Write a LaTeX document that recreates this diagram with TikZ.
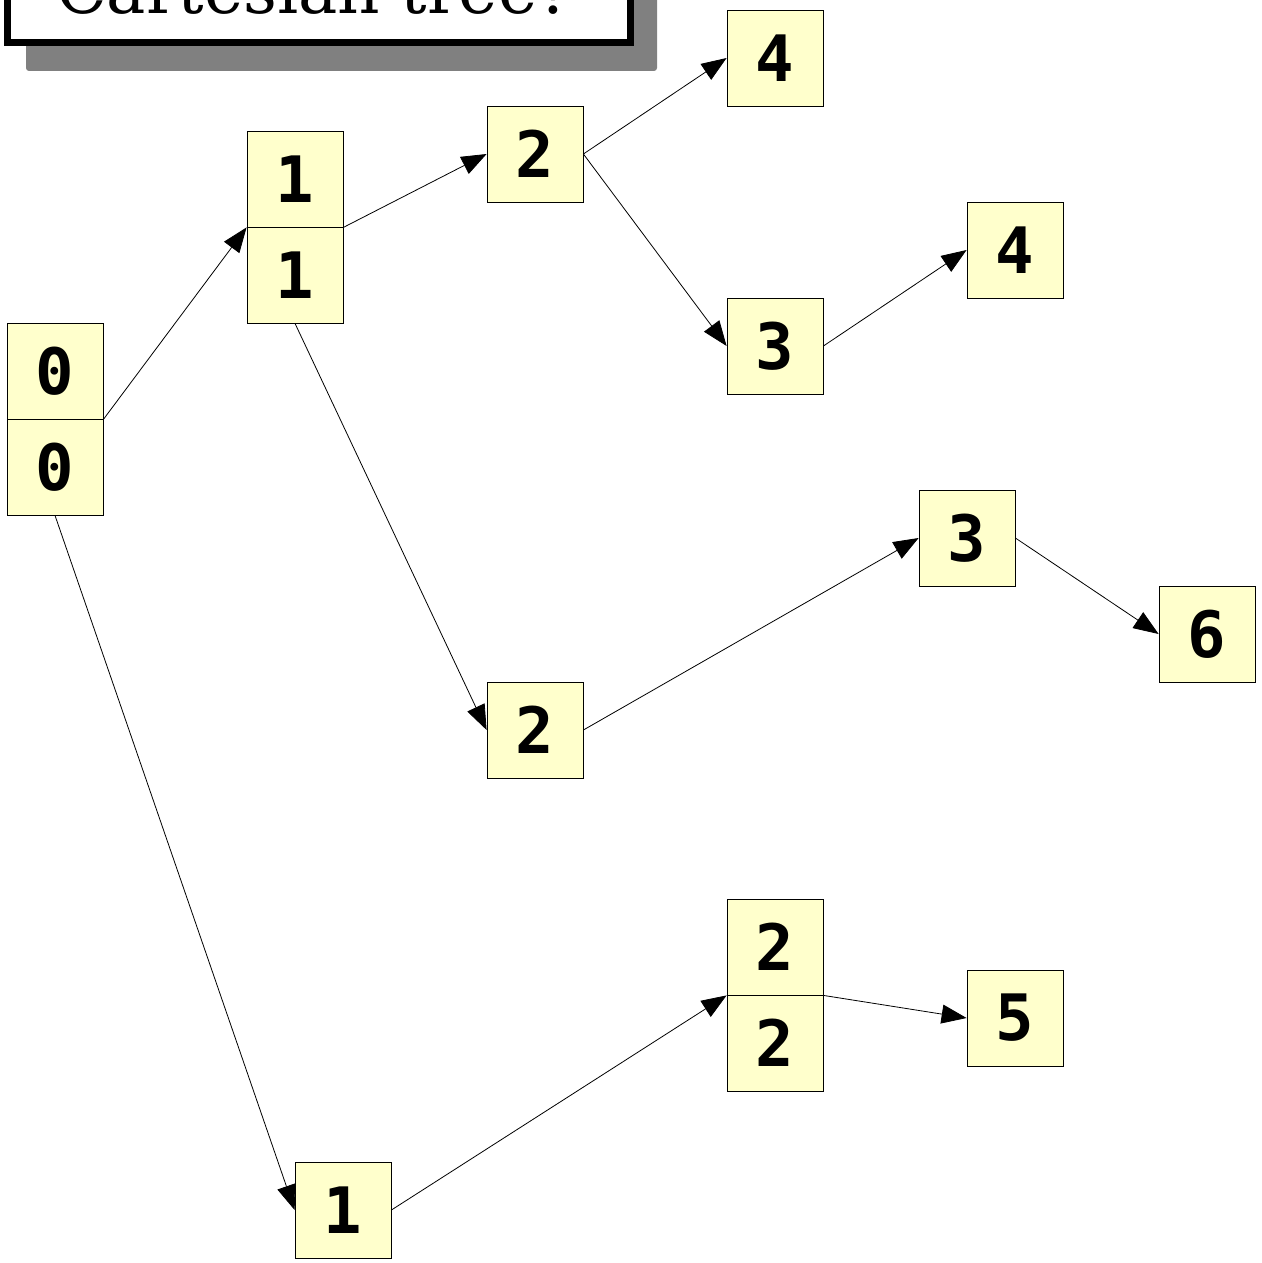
\documentclass[tikz,border=0pt]{standalone}
\usepackage{fontspec}
\newfontfamily\digitfont{DejaVu Sans Mono}
\newfontfamily\titlefont{DejaVu Serif}
\usetikzlibrary{arrows.meta}
\definecolor{cellfill}{HTML}{FFFFCC}
\definecolor{shadowgray}{HTML}{808080}
\tikzset{
  cell/.style={draw=black, line width=0.8pt, fill=cellfill, minimum size=96pt, inner sep=0pt,
    font=\digitfont\bfseries\fontsize{64}{64}\selectfont},
  link/.style={line width=0.8pt, -{Triangle[length=25pt,width=19pt]}}
}
\begin{document}
\begin{tikzpicture}[x=1pt,y=-1pt]
\useasboundingbox (0,0) rectangle (1261,1263);
% title box
\fill[shadowgray, rounded corners=3pt] (26,-100) rectangle (657,71);
\draw[line width=7pt, fill=white] (7.5,-100) rectangle (630.5,42.5);
\node[anchor=base west, inner sep=0pt, font=\titlefont\fontsize{66}{80}\selectfont] (title) at (56,14) {Cartesian tree?};
% nodes
\node[cell] (a0t) at (55,371) {0};
\node[cell] (a0b) at (55,467) {0};
\node[cell] (b1t) at (295,179) {1};
\node[cell] (b1b) at (295,275) {1};
\node[cell] (c2u) at (535,154) {2};
\node[cell] (d4u) at (775,58) {4};
\node[cell] (d3u) at (775,346) {3};
\node[cell] (e4) at (1015,250) {4};
\node[cell] (c2m) at (535,730) {2};
\node[cell] (d3m) at (967,538) {3};
\node[cell] (e6) at (1207,634) {6};
\node[cell] (f1) at (343,1210) {1};
\node[cell] (g2t) at (775,947) {2};
\node[cell] (g2b) at (775,1043) {2};
\node[cell] (h5) at (1015,1018) {5};
% edges
\draw[link] (a0t.south east) -- (b1t.south west);
\draw[link] (a0b.south) -- (f1.west);
\draw[link] (b1t.south east) -- (c2u.west);
\draw[link] (b1b.south) -- (c2m.west);
\draw[link] (c2u.east) -- (d4u.west);
\draw[link] (c2u.east) -- (d3u.west);
\draw[link] (d3u.east) -- (e4.west);
\draw[link] (c2m.east) -- (d3m.west);
\draw[link] (d3m.east) -- (e6.west);
\draw[link] (f1.east) -- (g2t.south west);
\draw[link] (g2t.south east) -- (h5.west);
\end{tikzpicture}
\end{document}
